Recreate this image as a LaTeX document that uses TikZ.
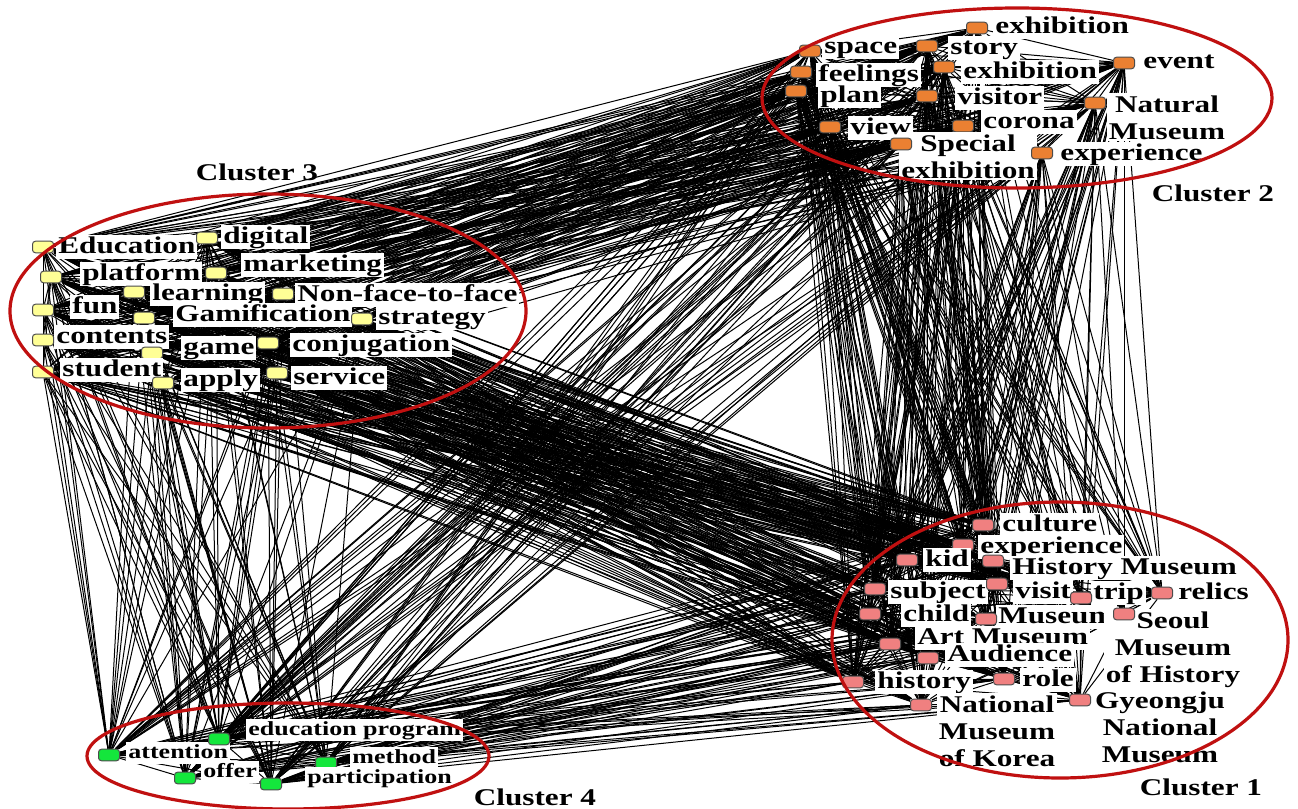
\documentclass[tikz,border=0pt]{standalone}
\usepackage{fontspec}
\setmainfont{Liberation Serif}[FakeStretch=1.3]
\usetikzlibrary{shapes.geometric,backgrounds}

\definecolor{clred}{RGB}{192,16,16}
\definecolor{orterm}{RGB}{235,128,50}
\definecolor{yeterm}{RGB}{255,255,150}
\definecolor{pkterm}{RGB}{240,128,128}
\definecolor{grterm}{RGB}{20,230,60}

% term lists of the four clusters
\newcommand{\clA}{cul,ex1,kid,hmu,sub,vst,trp,rel,chd,mus,seo,art,aud,his,rol,nmk,gye}
\newcommand{\clB}{exa,spc,sto,fee,exb,evt,pln,vis,nat,cor,vie,spe,ex2}
\newcommand{\clC}{edu,dig,pla,mkt,lrn,nff,fun,gam,str,con,gme,cnj,stu,app,ser}
\newcommand{\clD}{att,edp,off,met,par}

\begin{document}
\begin{tikzpicture}[
  x=0.5pt, y=-0.5pt,
  sq/.style={draw=black!70, line width=0.5pt, rounded corners=1.5pt, inner sep=0pt,
             minimum width=10.5pt, minimum height=5.8pt},
  orsq/.style={sq, fill=orterm},
  yesq/.style={sq, fill=yeterm},
  pksq/.style={sq, fill=pkterm},
  grsq/.style={sq, fill=grterm},
  term/.style={fill=white, inner sep=1pt, anchor=west, text height=8.2pt, text depth=2.2pt,
               font=\fontsize{12}{13.5}\selectfont\bfseries},
  mterm/.style={fill=white, inner sep=1pt, anchor=north, align=center,
                font=\fontsize{12}{13.5}\selectfont\bfseries},
  sterm/.style={term, text height=6.9pt, text depth=1.9pt,
                font=\fontsize{10}{12}\selectfont\bfseries},
  edge/.style={line width=0.5pt, black},
  clus/.style={ellipse, draw=clred, line width=1.6pt, inner sep=0pt},
  clname/.style={font=\fontsize{12}{14}\selectfont\bfseries}
]
\useasboundingbox (0,0) rectangle (1298,809);

% Cluster 2
\node[term] (t-exa) at (993,27) {exhibition};
\node[orsq] (exa) at (977,28) {};
\node[term] (t-spc) at (822,47) {space};
\node[orsq] (spc) at (810,51) {};
\node[term] (t-sto) at (948,48) {story};
\node[orsq] (sto) at (927,46) {};
\node[term] (t-fee) at (816,75) {feelings};
\node[orsq] (fee) at (801,72) {};
\node[term] (t-exb) at (961,72) {exhibition};
\node[orsq] (exb) at (944,67) {};
\node[term] (t-evt) at (1141,62) {event};
\node[orsq] (evt) at (1124,63) {};
\node[term] (t-pln) at (818,96) {plan};
\node[orsq] (pln) at (796,91) {};
\node[term] (t-vis) at (955,98) {visitor};
\node[orsq] (vis) at (927,96) {};
\node[mterm] (t-nat) at (1167,93) {Natural\\Museum};
\node[orsq] (nat) at (1095,103) {};
\node[term] (t-cor) at (981,122) {corona};
\node[orsq] (cor) at (963,126) {};
\node[term] (t-vie) at (848,128) {view};
\node[orsq] (vie) at (830,127) {};
\node[mterm] (t-spe) at (968,132) {Special\\exhibition};
\node[orsq] (spe) at (901,144) {};
\node[term] (t-ex2) at (1058,154) {experience};
\node[orsq] (ex2) at (1042,153) {};

% Cluster 3
\node[term] (t-edu) at (56,247) {Education};
\node[yesq] (edu) at (43,247) {};
\node[term] (t-dig) at (221,237) {digital};
\node[yesq] (dig) at (207,238) {};
\node[term] (t-pla) at (80,274) {platform};
\node[yesq] (pla) at (51,277) {};
\node[term] (t-mkt) at (241,265) {marketing};
\node[yesq] (mkt) at (216,273) {};
\node[term] (t-lrn) at (150,294) {learning};
\node[yesq] (lrn) at (134,292) {};
\node[term] (t-nff) at (295,295) {Non-face-to-face};
\node[yesq] (nff) at (283,294) {};
\node[term] (t-fun) at (70,307) {fun};
\node[yesq] (fun) at (43,310) {};
\node[term] (t-gam) at (173,315) {Gamification};
\node[yesq] (gam) at (144,318) {};
\node[term] (t-str) at (376,318) {strategy};
\node[yesq] (str) at (362,319) {};
\node[term] (t-con) at (54,337) {contents};
\node[yesq] (con) at (43,340) {};
\node[term] (t-gme) at (181,348) {game};
\node[yesq] (gme) at (152,353) {};
\node[term] (t-cnj) at (290,345) {conjugation};
\node[yesq] (cnj) at (268,343) {};
\node[term] (t-stu) at (60,370) {student};
\node[yesq] (stu) at (43,372) {};
\node[term] (t-app) at (181,380) {apply};
\node[yesq] (app) at (163,383) {};
\node[term] (t-ser) at (291,378) {service};
\node[yesq] (ser) at (277,373) {};

% Cluster 1
\node[term] (t-cul) at (1000,525) {culture};
\node[pksq] (cul) at (983,525) {};
\node[term] (t-ex1) at (978,547) {experience};
\node[pksq] (ex1) at (963,545) {};
\node[term] (t-kid) at (923,560) {kid};
\node[pksq] (kid) at (907,560) {};
\node[term] (t-hmu) at (1010,568) {History Museum};
\node[pksq] (hmu) at (993,561) {};
\node[term] (t-sub) at (888,592) {subject};
\node[pksq] (sub) at (875,589) {};
\node[term] (t-vst) at (1013,592) {visit};
\node[pksq] (vst) at (997,584) {};
\node[term] (t-trp) at (1091,593) {trip};
\node[pksq] (trp) at (1081,598) {};
\node[term] (t-rel) at (1176,593) {relics};
\node[pksq] (rel) at (1162,593) {};
\node[term] (t-chd) at (901,615) {child};
\node[pksq] (chd) at (870,614) {};
\node[term] (t-mus) at (996,617) {Museum};
\node[pksq] (mus) at (986,619) {};
\node[mterm] (t-seo) at (1173,609) {Seoul\\Museum\\of History};
\node[pksq] (seo) at (1124,614) {};
\node[term] (t-art) at (915,638) {Art Museum};
\node[pksq] (art) at (890,644) {};
\node[term] (t-aud) at (945,655) {Audience};
\node[pksq] (aud) at (928,658) {};
\node[term] (t-his) at (875,682) {history};
\node[pksq] (his) at (853,682) {};
\node[term] (t-rol) at (1020,680) {role};
\node[pksq] (rol) at (1004,679) {};
\node[mterm] (t-nmk) at (997,693) {National\\Museum\\of Korea};
\node[pksq] (nmk) at (921,705) {};
\node[mterm] (t-gye) at (1160,689) {Gyeongju\\National\\Museum};
\node[pksq] (gye) at (1080,700) {};

% Cluster 4
\node[sterm] (t-att) at (126,753) {attention};
\node[grsq] (att) at (109,755) {};
\node[sterm] (t-edp) at (246,730) {education program};
\node[grsq] (edp) at (219,739) {};
\node[sterm] (t-off) at (201,772) {offer};
\node[grsq] (off) at (185,778) {};
\node[sterm] (t-met) at (350,758) {method};
\node[grsq] (met) at (326,763) {};
\node[sterm] (t-par) at (305,778) {participation};
\node[grsq] (par) at (271,784) {};

% co-occurrence links
\begin{pgfonlayer}{background}
  \fill[white] (0,0) rectangle (1298,809);
  \foreach \a in \clA {\foreach \b in \clB {\draw[edge] (\a) -- (\b);}}
  \foreach \a in \clA {\foreach \b in \clC {\draw[edge] (\a) -- (\b);}}
  \foreach \a in \clA {\foreach \b in \clD {\draw[edge] (\a) -- (\b);}}
  \foreach \a in \clB {\foreach \b in \clC {\draw[edge] (\a) -- (\b);}}
  \foreach \a in \clB {\foreach \b in \clD {\draw[edge] (\a) -- (\b);}}
  \foreach \a in \clC {\foreach \b in \clD {\draw[edge] (\a) -- (\b);}}
  \foreach \a [count=\i] in \clA {\foreach \b [count=\j] in \clA {\ifnum\j>\i \draw[edge] (\a) -- (\b);\fi}}
  \foreach \a [count=\i] in \clB {\foreach \b [count=\j] in \clB {\ifnum\j>\i \draw[edge] (\a) -- (\b);\fi}}
  \foreach \a [count=\i] in \clC {\foreach \b [count=\j] in \clC {\ifnum\j>\i \draw[edge] (\a) -- (\b);\fi}}
  \foreach \a [count=\i] in \clD {\foreach \b [count=\j] in \clD {\ifnum\j>\i \draw[edge] (\a) -- (\b);\fi}}
\end{pgfonlayer}

% clusters
\node[clus, minimum width=255pt, minimum height=90pt] (cl2) at (1017,98) {};
\node[clus, minimum width=258pt, minimum height=117pt] (cl3) at (268,311) {};
\node[clus, minimum width=228pt, minimum height=138pt] (cl1) at (1060,640) {};
\node[clus, minimum width=201pt, minimum height=53pt] (cl4) at (288,756) {};
\node[clname] (n3) at (257,172) {Cluster 3};
\node[clname] (n2) at (1213,193) {Cluster 2};
\node[clname] (n1) at (1201,787) {Cluster 1};
\node[clname] (n4) at (535,797) {Cluster 4};
\end{tikzpicture}
\end{document}
